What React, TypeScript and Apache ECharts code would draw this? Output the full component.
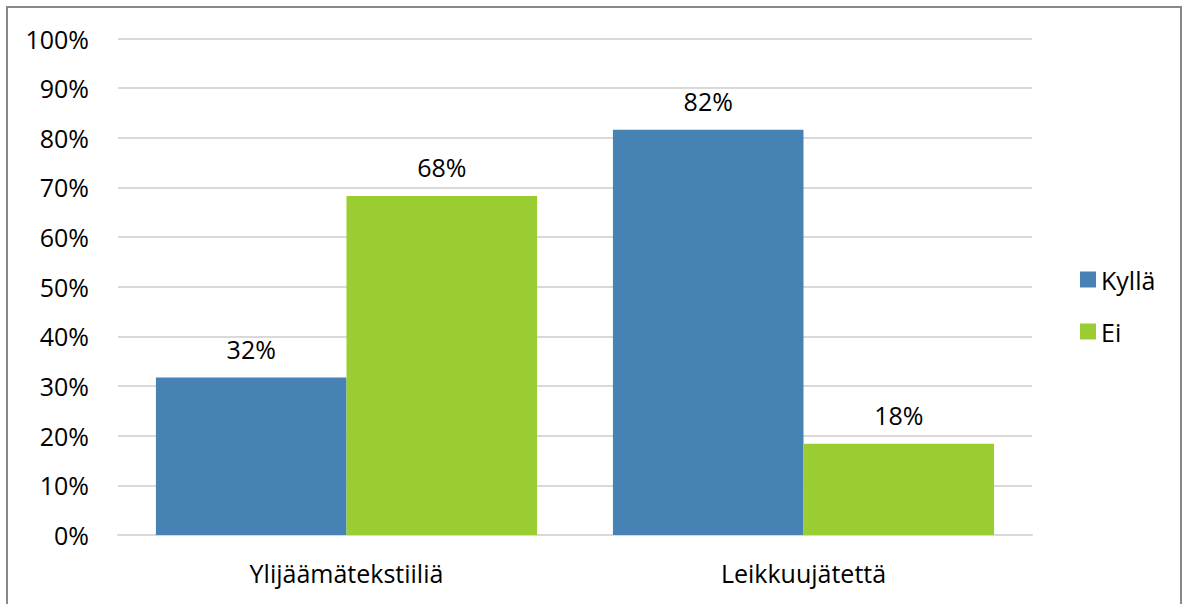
import React, { useEffect, useRef } from "react";
import * as echarts from "echarts";

const categories = ["Ylijäämätekstiiliä", "Leikkuujätettä"];
const kylla = [31.7, 81.6];
const ei = [68.3, 18.4];
const seriesNames = ["Kyllä", "Ei"];

export default function App() {
  const ref = useRef<HTMLDivElement>(null);
  useEffect(() => {
    if (!ref.current) return;
    const chart = echarts.init(ref.current, undefined, { renderer: "svg" });
    const font = "'Open Sans', 'Noto Sans', sans-serif";
    const fs = 25;
    const label = {
      show: true,
      position: "top",
      distance: 16,
      fontSize: fs,
      color: "#000",
      fontFamily: font,
      formatter: (p: any) => Math.round(p.value) + "%",
    };
    chart.setOption({
      animation: false,
      backgroundColor: "#fff",
      grid: { left: 118, right: 153, top: 38.5, bottom: 69 },
      legend: {
        orient: "vertical",
        left: 1075,
        top: 262,
        itemWidth: 16,
        itemHeight: 16,
        itemGap: 27,
        icon: "rect",
        textStyle: { fontSize: fs, color: "#000", fontFamily: font },
        data: seriesNames,
      },
      xAxis: {
        type: "category",
        data: categories,
        axisLine: { lineStyle: { color: "#d9d9d9", width: 2 } },
        axisTick: { show: false },
        axisLabel: { fontSize: fs, color: "#000", fontFamily: font, margin: 25 },
      },
      yAxis: {
        type: "value",
        min: 0,
        max: 100,
        interval: 10,
        axisLabel: { fontSize: fs, color: "#000", fontFamily: font, margin: 29, formatter: "{value}%" },
        splitLine: { lineStyle: { color: "#d9d9d9", width: 2 } },
        axisLine: { show: false },
        axisTick: { show: false },
      },
      series: [
        {
          name: seriesNames[0],
          type: "bar",
          data: kylla,
          barGap: "0%",
          barCategoryGap: "16.6%",
          itemStyle: { color: "#4682B4" },
          label,
        },
        {
          name: seriesNames[1],
          type: "bar",
          data: ei,
          itemStyle: { color: "#9ACD32" },
          label,
        },
      ],
      graphic: [
        {
          type: "polyline",
          shape: { points: [[7, 604], [7, 7], [1181, 7], [1181, 604]] },
          style: { stroke: "#888", lineWidth: 2, fill: "none" },
          silent: true,
        },
      ],
    });
    return () => chart.dispose();
  }, []);
  return (
    <div
      ref={ref}
      style={{ position: "absolute", left: 0, top: 0, width: 1185, height: 604 }}
    />
  );
}
